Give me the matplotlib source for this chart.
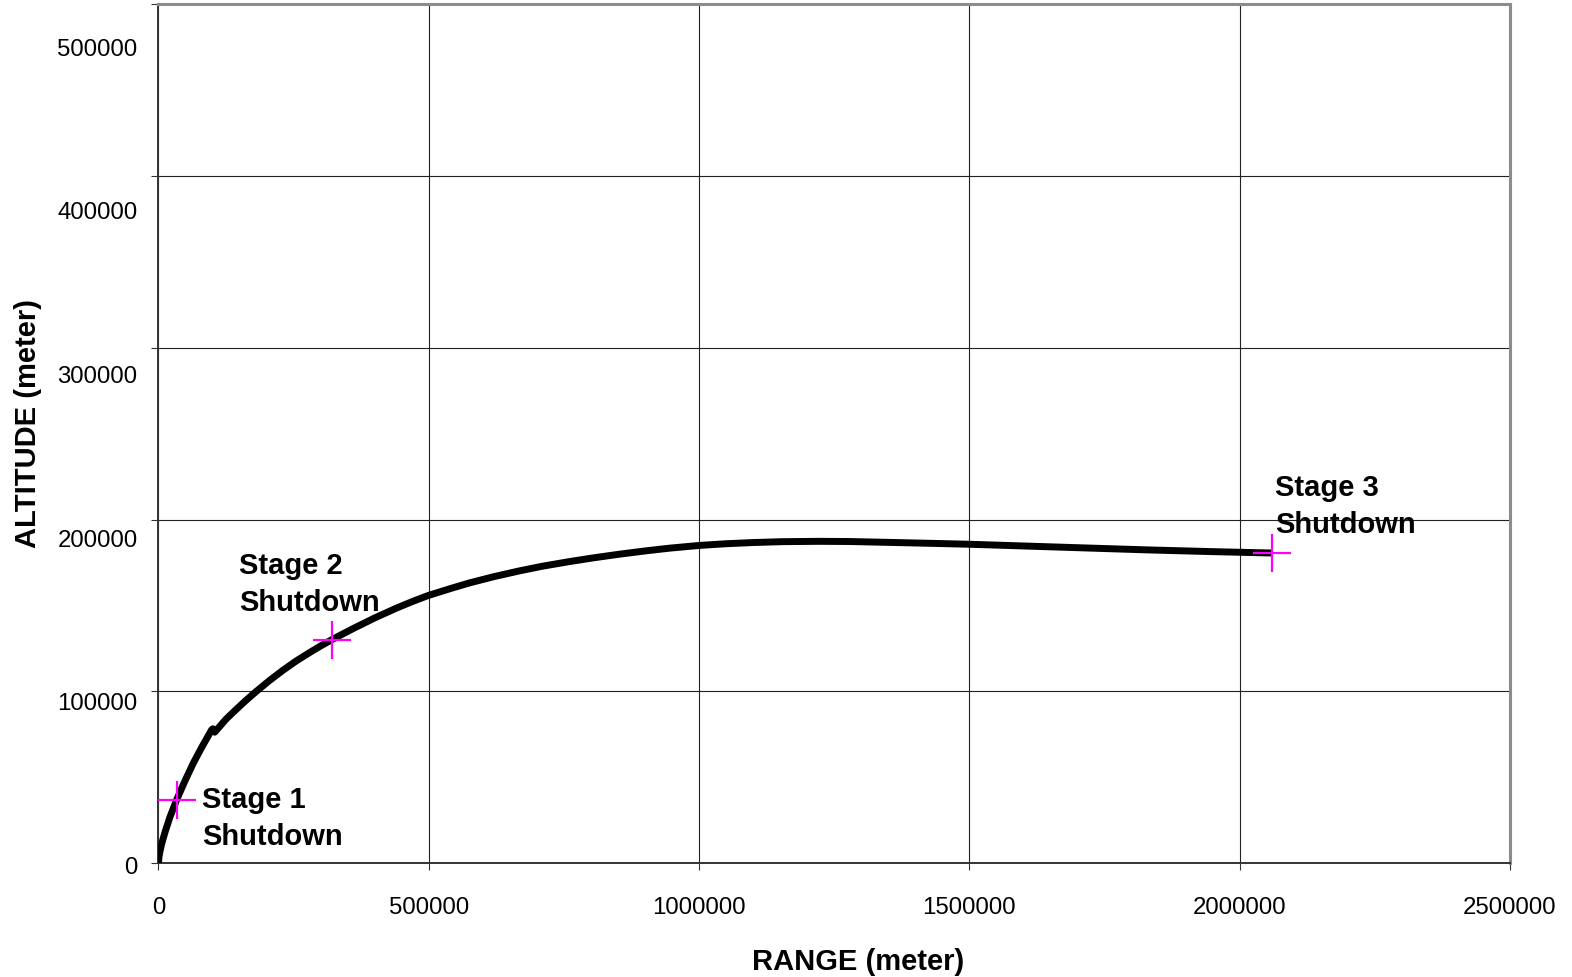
import matplotlib
matplotlib.use("Agg")
import matplotlib.pyplot as plt
import matplotlib.transforms as mtransforms

plt.rcParams['font.family'] = ['Liberation Sans', 'DejaVu Sans']

# Trajectory (range, altitude) in meters
range_m = [0, 920, 2770, 5850, 12000, 21250, 33550, 48950, 64300, 79700,
           98200, 100500, 104000, 110400, 125000, 141300, 160000, 180000,
           205000, 230500, 255000, 279800, 300000, 321000, 360000, 400000,
           440000, 470000, 498400, 540000, 575400, 620000, 667700, 710000,
           760000, 805000, 852400, 900000, 944800, 1000000, 1050000, 1100000,
           1154000, 1220000, 1277000, 1350000, 1420000, 1500000, 1560000,
           1615000, 1700000, 1831000, 1950000, 2060000]
altitude_m = [0, 3600, 6900, 11200, 18000, 26900, 36900, 47900, 58200, 67300,
              77600, 78300, 76300, 78600, 83900, 88800, 94300, 99800,
              106300, 112400, 117800, 122700, 126500, 130200, 136600, 142800,
              148500, 152400, 155800, 159900, 163200, 166800, 170200, 172900,
              175600, 177800, 179900, 181800, 183400, 185000, 186000, 186700,
              187200, 187400, 187300, 186800, 186300, 185700, 185100,
              184550, 183700, 182400, 181400, 180600]

# Shutdown events
event_labels = ["Stage 1\nShutdown", "Stage 2\nShutdown", "Stage 3\nShutdown"]
event_range = [33550, 321000, 2060000]
event_alt = [36900, 130000, 180400]
label_range = [81000, 149000, 2065000]
label_alt = [45000, 181000, 226500]

x_ticks = [0, 500000, 1000000, 1500000, 2000000, 2500000]
y_ticks = [0, 100000, 200000, 300000, 400000, 500000]

fig = plt.figure(figsize=(15.72, 9.77), dpi=100)
ax = fig.add_axes([0.1008, 0.1164, 0.8597, 0.8792])

ax.plot(range_m, altitude_m, color='black', lw=5, solid_capstyle='butt',
        solid_joinstyle='round', zorder=3)
ax.plot(event_range, event_alt, ls='none', marker='+', ms=28, mew=1.6,
        color='#ff00ff', zorder=4)
for lab, xr, ya in zip(event_labels, label_range, label_alt):
    ax.text(xr, ya, lab, fontsize=21, fontweight='bold', ha='left', va='top',
            linespacing=1.4, zorder=5)

ax.set_xlim(0, 2500000)
ax.set_ylim(0, 500000)
ax.set_xticks(x_ticks)
ax.set_yticks(y_ticks)
ax.set_xticklabels([str(v) for v in x_ticks])
ax.set_yticklabels([str(v) for v in y_ticks])
ax.grid(True, color='#222222', lw=0.8)
ax.set_axisbelow(True)

ax.tick_params(axis='both', direction='out', length=5, width=0.8, labelsize=17.3,
               color='#333333')
ax.tick_params(axis='x', pad=19)
ax.tick_params(axis='y', pad=10)

for s in ['left', 'bottom']:
    ax.spines[s].set_color('#333333')
    ax.spines[s].set_linewidth(1.4)
for s in ['top', 'right']:
    ax.spines[s].set_color('#8c8c8c')
    ax.spines[s].set_linewidth(2.2)

ax.set_xlabel("RANGE (meter)", fontsize=21, fontweight='bold')
ax.set_ylabel("ALTITUDE (meter)", fontsize=21, fontweight='bold')
ax.xaxis.set_label_coords(0.5176, -0.0985)
ax.yaxis.set_label_coords(-0.086, 0.512)

# the original y tick labels drift slightly downward relative to gridlines
for i, lab in enumerate(ax.get_yticklabels()):
    off = (2 + 8.2 * i) / 100.0
    lab.set_transform(lab.get_transform() +
                      mtransforms.ScaledTranslation(0, -off, fig.dpi_scale_trans))

fig.savefig("out.png", dpi=100)
